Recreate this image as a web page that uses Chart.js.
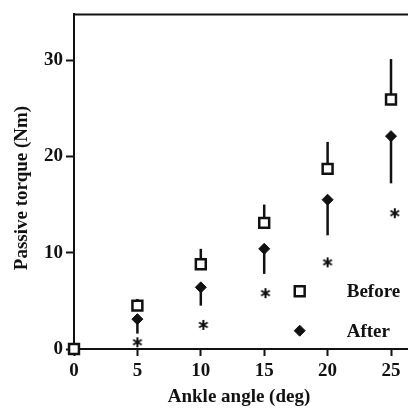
<!DOCTYPE html>
<html>
<head>
<meta charset="utf-8">
<script src="https://cdn.jsdelivr.net/npm/chart.js@4/dist/chart.umd.min.js"></script>
<style>
  body { margin: 0; background: #fff; }
  #wrap { width: 408px; height: 410px; }
</style>
</head>
<body>
<div id="wrap"><canvas id="c" width="408" height="410"></canvas></div>
<script>
// values
const angles = [0, 5, 10, 15, 20, 25];
const beforeMean = [0, 4.5, 8.8, 13.1, 18.7, 25.9];
const beforeSD = [0, 0.7, 1.6, 1.9, 2.8, 4.2];
const afterMean = [0, 3.1, 6.4, 10.4, 15.5, 22.1];
const afterSD = [0, 1.5, 1.9, 2.6, 3.7, 4.9];
const sigX = [5, 10.2, 15.1, 20, 25.3];
const sigY = [0.7, 2.5, 5.8, 9.0, 14.1];
const xTicks = [0, 5, 10, 15, 20, 25];
const yTicks = [0, 10, 20, 30];
const legendLabels = ['Before', 'After'];

const ink = '#111';
const serif = '"Liberation Serif", "DejaVu Serif", serif';

// asterisk marker
const star = document.createElement('canvas');
star.width = star.height = 12;
(function () {
  const c = star.getContext('2d');
  c.strokeStyle = ink;
  c.lineWidth = 2;
  c.translate(6, 6);
  for (let i = 0; i < 3; i++) {
    c.beginPath(); c.moveTo(0, -5); c.lineTo(0, 5); c.stroke();
    c.rotate(Math.PI / 3);
  }
})();

const pts = (xs, ys) => xs.map((x, i) => ({ x: x, y: ys[i] }));

const beforeStyle = { pointStyle: 'rect', radius: 7, borderWidth: 2.5, borderColor: ink, backgroundColor: '#fff' };
const afterStyle = { pointStyle: 'rectRot', radius: 5.5, borderWidth: 1, borderColor: ink, backgroundColor: ink };

function legendPoint(ctx, st, px, py) {
  ctx.save();
  ctx.fillStyle = st.backgroundColor;
  ctx.strokeStyle = st.borderColor;
  ctx.lineWidth = st.borderWidth;
  Chart.helpers.drawPoint(ctx, st, px, py);
  ctx.restore();
}

const extras = {
  id: 'extras',
  beforeDatasetsDraw(chart) {
    const { ctx, scales: { x, y } } = chart;
    ctx.save();
    ctx.strokeStyle = ink;
    ctx.lineWidth = 2.5;
    angles.forEach((a, i) => {
      const px = x.getPixelForValue(a);
      if (beforeSD[i] > 0) {
        ctx.beginPath();
        ctx.moveTo(px, y.getPixelForValue(beforeMean[i]));
        ctx.lineTo(px, y.getPixelForValue(beforeMean[i] + beforeSD[i]));
        ctx.stroke();
      }
      if (afterSD[i] > 0) {
        ctx.beginPath();
        ctx.moveTo(px, y.getPixelForValue(afterMean[i]));
        ctx.lineTo(px, y.getPixelForValue(afterMean[i] - afterSD[i]));
        ctx.stroke();
      }
    });
    ctx.restore();
  },
  afterDraw(chart) {
    const { ctx, chartArea: a, scales: { x, y } } = chart;
    ctx.save();
    // top frame line
    ctx.strokeStyle = ink;
    ctx.lineWidth = 2;
    ctx.beginPath();
    ctx.moveTo(a.left - 1, a.top);
    ctx.lineTo(a.right, a.top);
    ctx.stroke();

    // legend inside the plot
    const lx = x.getPixelForValue(17.8);
    const ly = [y.getPixelForValue(6.0), y.getPixelForValue(1.9)];
    legendPoint(ctx, beforeStyle, lx, ly[0]);
    legendPoint(ctx, afterStyle, lx, ly[1]);
    ctx.fillStyle = ink;
    ctx.font = 'bold 19px ' + serif;
    ctx.textBaseline = 'middle';
    ctx.textAlign = 'left';
    ctx.fillText(legendLabels[0], lx + 47, ly[0] + 1);
    ctx.fillText(legendLabels[1], lx + 47, ly[1] + 1);

    // axis titles
    ctx.textAlign = 'center';
    ctx.textBaseline = 'alphabetic';
    ctx.fillText('Ankle angle (deg)', (a.left + a.right) / 2 - 2, a.bottom + 53);
    ctx.translate(22, 188);
    ctx.rotate(-Math.PI / 2);
    ctx.textBaseline = 'middle';
    ctx.fillText('Passive torque (Nm)', 0, 0);
    ctx.restore();
  }
};

new Chart(document.getElementById('c'), {
  type: 'scatter',
  data: {
    datasets: [
      Object.assign({ label: 'Before', data: pts(angles, beforeMean) }, beforeStyle),
      Object.assign({ label: 'After', data: pts(angles, afterMean) }, afterStyle),
      { label: 'sig', data: pts(sigX, sigY), pointStyle: star, radius: 6 }
    ]
  },
  options: {
    responsive: false,
    animation: false,
    events: [],
    clip: false,
    layout: { autoPadding: false, padding: { top: 12, right: 0, left: 0, bottom: 0 } },
    plugins: { legend: { display: false }, tooltip: { enabled: false } },
    scales: {
      x: {
        type: 'linear', min: 0, max: 26.34,
        afterBuildTicks: s => { s.ticks = xTicks.map(v => ({ value: v })); },
        afterFit: s => { s.height = 61; },
        grid: { drawOnChartArea: false, drawTicks: true, tickLength: 7, tickWidth: 2, tickColor: ink },
        border: { display: true, color: ink, width: 2 },
        ticks: { color: ink, padding: 4, font: { family: serif, size: 19, weight: 'bold' } }
      },
      y: {
        type: 'linear', min: 0, max: 34.74,
        afterBuildTicks: s => { s.ticks = yTicks.map(v => ({ value: v })); },
        afterFit: s => { s.width = 74; },
        grid: { drawOnChartArea: false, drawTicks: true, tickLength: 8, tickWidth: 2, tickColor: ink },
        border: { display: true, color: ink, width: 2 },
        ticks: { color: ink, padding: 3, font: { family: serif, size: 19, weight: 'bold' } }
      }
    }
  },
  plugins: [extras]
});
</script>
</body>
</html>
